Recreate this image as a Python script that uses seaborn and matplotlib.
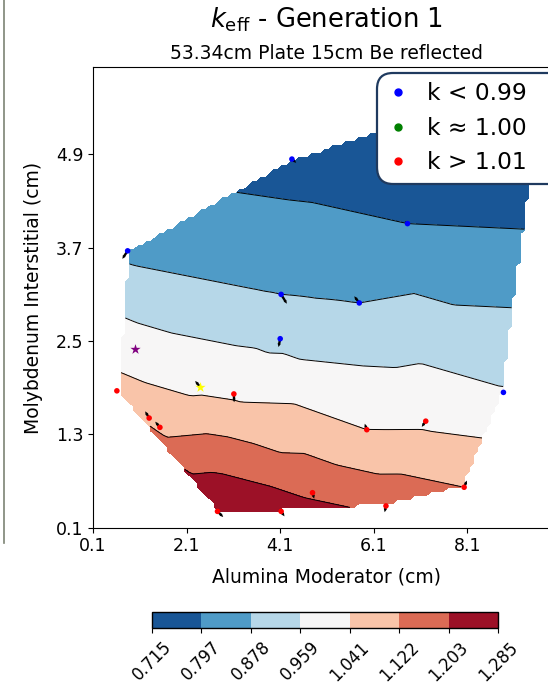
import numpy as np
import pandas as pd
import matplotlib
matplotlib.use("Agg")
import matplotlib.pyplot as plt
import matplotlib.tri as mtri
from matplotlib.lines import Line2D
import seaborn as sns

# ---------------- data ----------------
alumina = [0.84, 4.35, 7.30, 9.59, 6.82, 4.12, 5.79, 4.10, 8.87, 0.61, 1.30,
           1.53, 3.11, 5.95, 7.21, 8.03, 4.79, 6.36, 2.76, 4.12, 2.39]
molybdenum = [3.66, 4.84, 5.43, 5.15, 4.01, 3.10, 2.99, 2.53, 1.84, 1.86, 1.51,
              1.39, 1.82, 1.36, 1.47, 0.62, 0.55, 0.38, 0.31, 0.31, 1.91]
keff = [0.860, 0.762, 0.725, 0.700, 0.797, 0.878, 0.878, 0.935, 0.965, 1.070, 1.090,
        1.100, 1.028, 1.041, 1.026, 1.122, 1.186, 1.180, 1.285, 1.250, 1.024]
grad_u = [-0.113, 0.092, 0.0, 0.0, -0.058, 0.122, -0.107, -0.036, 0.0, 0.0, -0.085,
          -0.100, 0.006, -0.043, -0.085, 0.058, 0.036, -0.028, 0.122, 0.071, -0.107]
grad_v = [-0.103, -0.048, 0.0, 0.0, 0.030, -0.120, 0.086, -0.107, 0.0, 0.0, 0.086,
          0.073, -0.107, 0.077, -0.073, 0.086, -0.077, -0.081, -0.073, -0.064, 0.077]
best_point = [2.39, 1.91]       # yellow star (last data point)
reference_point = [1.00, 2.40]  # purple star

levels = [0.715, 0.797, 0.878, 0.959, 1.041, 1.122, 1.203, 1.285]
level_labels = ["0.715", "0.797", "0.878", "0.959", "1.041", "1.122", "1.203", "1.285"]
xticks = [0.1, 2.1, 4.1, 6.1, 8.1]
yticks = [0.1, 1.3, 2.5, 3.7, 4.9]
legend_labels = ["k < 0.99", "k \u2248 1.00", "k > 1.01"]
legend_colors = ["blue", "green", "red"]

df = pd.DataFrame({"alumina": alumina, "molybdenum": molybdenum, "keff": keff,
                   "u": grad_u, "v": grad_v})
df["cls"] = np.where(df["keff"] < 0.99, "low", np.where(df["keff"] > 1.01, "high", "mid"))

# ---------------- figure ----------------
W, H = 548, 688
fig = plt.figure(figsize=(W / 100, H / 100), dpi=100)
ax = fig.add_axes([93 / W, (H - 527.7) / H, 468 / W, 460.4 / H])
cax = fig.add_axes([151.7 / W, (H - 628.3) / H, 346.3 / W, 16.6 / H])

# interpolate on a grid (linear, inside convex hull)
tri = mtri.Triangulation(df["alumina"], df["molybdenum"])
interp = mtri.LinearTriInterpolator(tri, df["keff"])
xi = np.linspace(df["alumina"].min(), df["alumina"].max(), 100)
yi = np.linspace(df["molybdenum"].min(), df["molybdenum"].max(), 100)
Xg, Yg = np.meshgrid(xi, yi)
Z = interp(Xg, Yg)
Z = np.ma.masked_where(np.ma.getmaskarray(Z), np.clip(Z.filled(levels[0]), levels[0], levels[-1]))

cs = ax.contourf(Xg, Yg, Z, levels=levels, cmap="RdBu_r")
ax.contour(Xg, Yg, Z, levels=levels[1:-1], colors="k", linewidths=0.7)

# gradient arrows
main = df.iloc[:-1]
ax.quiver(df["alumina"], df["molybdenum"], df["u"], df["v"], angles="xy",
          scale_units="xy", scale=1, pivot="tail", color="k", width=0.005,
          headwidth=1.4, headlength=1.5, headaxislength=1.5, zorder=3)

sns.scatterplot(data=main, x="alumina", y="molybdenum", hue="cls",
                palette={"low": "blue", "mid": "green", "high": "red"},
                s=16, linewidth=0, legend=False, ax=ax, zorder=4)
ax.scatter([best_point[0]], [best_point[1]], marker="*", s=60, color="yellow",
           linewidth=0, zorder=5)
ax.scatter([reference_point[0]], [reference_point[1]], marker="*", s=60,
           color="purple", linewidth=0, zorder=5)

ax.set_xlim(0.1, 10.1)
ax.set_ylim(0.1, 6.02)
ax.set_xticks(xticks)
ax.set_yticks(yticks)
ax.set_xticklabels([f"{t:.1f}" for t in xticks])
ax.set_yticklabels([f"{t:.1f}" for t in yticks])
ax.tick_params(labelsize=12.5)
ax.set_xlabel("Alumina Moderator (cm)", fontsize=13.5, labelpad=8.5)
ax.set_ylabel("Molybdenum Interstitial (cm)", fontsize=13.5, labelpad=9)

# legend
handles = [Line2D([], [], marker="o", ls="", color=c, markersize=5) for c in legend_colors]
leg = ax.legend(handles, legend_labels, loc="upper left", mode="expand",
                bbox_to_anchor=(377 / W, 1 - 72.7 / H, 230 / W, 0.0),
                bbox_transform=fig.transFigure, borderaxespad=0,
                fontsize=16.8, handlelength=1.0, handletextpad=0.75,
                labelspacing=0.5, framealpha=1, fancybox=True)
frame = leg.get_frame()
frame.set_edgecolor("#1f3a5f")
frame.set_linewidth(1.6)
frame.set_boxstyle("round,pad=0,rounding_size=0.7")

# colorbar
cb = fig.colorbar(cs, cax=cax, orientation="horizontal", ticks=levels)
cb.ax.set_xticklabels(level_labels, rotation=45, fontsize=12)
cb.outline.set_linewidth(1.0)

# titles
fig.text(327 / W, (H - 28) / H, r"$k_{\mathrm{eff}}$ - Generation 1",
         ha="center", va="baseline", fontsize=18.5)
fig.text(326 / W, (H - 59.4) / H, "53.34cm Plate 15cm Be reflected",
         ha="center", va="baseline", fontsize=13.5)

# left window border (screenshot edge)
fig.add_artist(Line2D([3.5 / W, 3.5 / W], [1, 1 - 543 / H], transform=fig.transFigure,
                      color="#7d8474", lw=1.2))

fig.savefig("out.png", dpi=100)
